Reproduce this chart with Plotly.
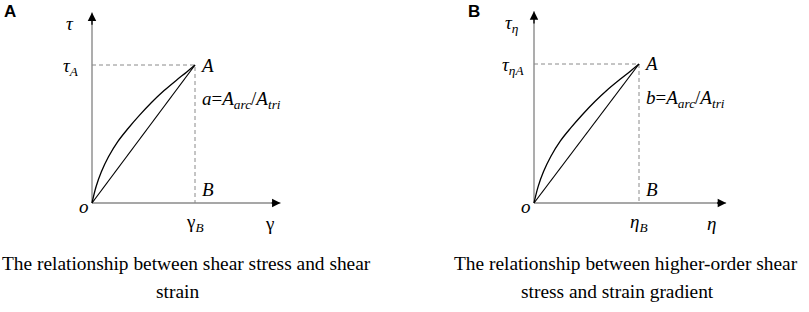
import plotly.graph_objects as go

W, H = 809, 312

# ---- data (normalised: O=(0,0), B=(1,0), A=(1,1)) ----
curve_x = [0, 0.04, 0.09, 0.16, 0.25, 0.35, 0.46, 0.58, 0.70, 0.82, 0.92, 1.0]
curve_y = [0, 0.12, 0.225, 0.335, 0.445, 0.54, 0.635, 0.73, 0.815, 0.89, 0.95, 1.0]
chord_x = [0, 1]
chord_y = [0, 1]
axis_x_end = 1.83
axis_y_end = 1.38

SERIF = "Times New Roman, Liberation Serif, serif"

panels = [
    dict(xa="x", ya="y", ox=92, oy=203, sx=103, sy=138,
         letter="A", lx=10,
         ylab="<i>τ</i>", ylabA="<i>τ<sub>A</sub></i>",
         xlab="γ", xlabB="γ<sub><i>B</i></sub>",
         ratio="<i>a</i>=<i>A<sub>arc</sub></i>/<i>A<sub>tri</sub></i>",
         title1="The relationship between shear stress and shear", title2="strain",
         t1x=186, t2x=177),
    dict(xa="x2", ya="y2", ox=534, oy=203, sx=105, sy=139,
         letter="B", lx=474,
         ylab="<i>τ<sub>η</sub></i>", ylabA="<i>τ<sub>ηA</sub></i>",
         xlab="<i>η</i>", xlabB="<i>η<sub>B</sub></i>",
         ratio="<i>b</i>=<i>A<sub>arc</sub></i>/<i>A<sub>tri</sub></i>",
         title1="The relationship between higher-order shear", title2="stress and strain gradient",
         t1x=626, t2x=617),
]

fig = go.Figure()
AX = "#8a8a8a"
ann = []
layout = {}


def px(x):
    return x / W


def py(y):
    return 1 - y / H


for i, p in enumerate(panels):
    xa, ya = p["xa"], p["ya"]
    # axes lines
    fig.add_trace(go.Scatter(x=[0, axis_x_end], y=[0, 0], mode="lines", xaxis=xa, yaxis=ya,
                             line=dict(color=AX, width=1.4), hoverinfo="skip"))
    fig.add_trace(go.Scatter(x=[0, 0], y=[0, axis_y_end], mode="lines", xaxis=xa, yaxis=ya,
                             line=dict(color=AX, width=1.4), hoverinfo="skip"))
    # dashed guide lines
    fig.add_trace(go.Scatter(x=[0, 1, 1], y=[1, 1, 0], mode="lines", xaxis=xa, yaxis=ya,
                             line=dict(color=AX, width=1, dash="4px,3px"), hoverinfo="skip"))
    # chord and curve
    fig.add_trace(go.Scatter(x=chord_x, y=chord_y, mode="lines", xaxis=xa, yaxis=ya,
                             line=dict(color="black", width=1.2), hoverinfo="skip"))
    fig.add_trace(go.Scatter(x=curve_x, y=curve_y, mode="lines", xaxis=xa, yaxis=ya,
                             line=dict(color="black", width=1.3, shape="spline", smoothing=1.0),
                             hoverinfo="skip"))
    # arrowheads
    ann.append(dict(x=axis_x_end, y=0, ax=axis_x_end - 0.1, ay=0, xref=xa, yref=ya,
                    axref=xa, ayref=ya, showarrow=True, arrowhead=2, arrowsize=1.3,
                    arrowwidth=1.3, arrowcolor="black", text=""))
    ann.append(dict(x=0, y=axis_y_end, ax=0, ay=axis_y_end - 0.1, xref=xa, yref=ya,
                    axref=xa, ayref=ya, showarrow=True, arrowhead=2, arrowsize=1.3,
                    arrowwidth=1.3, arrowcolor="black", text=""))

    # axis domains in pixels
    x0p, x1p = p["ox"] - 60, p["ox"] + 230
    y0p, y1p = 0, 240
    xr = [(x0p - p["ox"]) / p["sx"], (x1p - p["ox"]) / p["sx"]]
    yr = [(p["oy"] - y1p) / p["sy"], (p["oy"] - y0p) / p["sy"]]
    suffix = "" if i == 0 else "2"
    layout["xaxis" + suffix] = dict(domain=[px(x0p), px(x1p)], range=xr, visible=False,
                                    anchor="y" + suffix)
    layout["yaxis" + suffix] = dict(domain=[py(y1p), py(y0p)], range=yr, visible=False,
                                    anchor="x" + suffix)

    serif = dict(family=SERIF, size=19, color="black")
    ox, oy = p["ox"], p["oy"]
    Ax, Ay = ox + p["sx"], oy - p["sy"]
    labels = [
        (p["ylab"], ox - 22, 24),
        (p["ylabA"], ox - 21, Ay + 2),
        ("<i>A</i>", Ax + 12, Ay),
        ("<i>B</i>", Ax + 13, oy - 13),
        ("<i>o</i>", ox - 8, oy + 3),
        (p["xlabB"], Ax, oy + 20),
        (p["xlab"], ox + 177, oy + 20),
    ]
    for t, x, y in labels:
        ann.append(dict(text=t, x=px(x), y=py(y), xref="paper", yref="paper",
                        showarrow=False, xanchor="center", yanchor="middle", font=serif))
    ann.append(dict(text=p["ratio"], x=px(Ax + 5), y=py(Ay + 35), xref="paper", yref="paper",
                    showarrow=False, xanchor="left", yanchor="middle", font=serif))
    ann.append(dict(text="<b>" + p["letter"] + "</b>", x=px(p["lx"]), y=py(12), xref="paper",
                    yref="paper", showarrow=False, xanchor="center", yanchor="middle",
                    font=dict(family="Arial, Liberation Sans, sans-serif", size=17, color="black")))
    tfont = dict(family=SERIF, size=19.4, color="black")
    ann.append(dict(text=p["title1"], x=px(p["t1x"]), y=py(263), xref="paper", yref="paper",
                    showarrow=False, xanchor="center", yanchor="middle", font=tfont))
    ann.append(dict(text=p["title2"], x=px(p["t2x"]), y=py(291), xref="paper", yref="paper",
                    showarrow=False, xanchor="center", yanchor="middle", font=tfont))

fig.update_layout(width=W, height=H, margin=dict(l=0, r=0, t=0, b=0),
                  paper_bgcolor="white", plot_bgcolor="white", showlegend=False,
                  annotations=ann, **layout)
fig.write_html("out.html", config={"displayModeBar": False},
               post_script="document.body.style.margin='0';")
